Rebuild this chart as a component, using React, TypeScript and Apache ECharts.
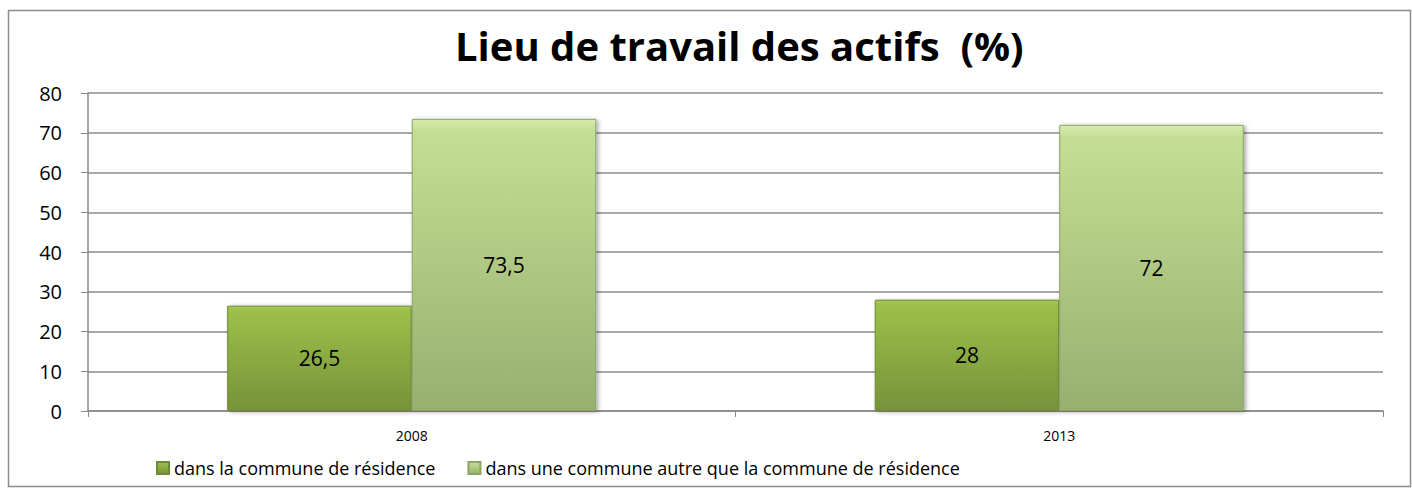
import React, { useEffect, useRef } from "react";
import * as echarts from "echarts";

const categories = ["2008", "2013"];
const seriesNames = [
  "dans la commune de résidence",
  "dans une commune autre que la commune de résidence",
];
const valuesResidence = [26.5, 28];
const valuesAutre = [73.5, 72];
const yTicks = [0, 10, 20, 30, 40, 50, 60, 70, 80];

const fmt = (v: number) => String(v).replace(".", ",");

export default function App() {
  const ref = useRef<HTMLDivElement>(null);
  useEffect(() => {
    const chart = echarts.init(ref.current!, null, { renderer: "svg" });
    const font = "'Open Sans', 'Noto Sans', sans-serif";
    const darkGrad = new echarts.graphic.LinearGradient(0, 0, 0, 1, [
      { offset: 0, color: "#a6c95a" },
      { offset: 0.04, color: "#9cc04a" },
      { offset: 1, color: "#76933a" },
    ]);
    const lightGrad = new echarts.graphic.LinearGradient(0, 0, 0, 1, [
      { offset: 0, color: "#d6ecae" },
      { offset: 0.04, color: "#c4de95" },
      { offset: 1, color: "#97b06f" },
    ]);
    chart.setOption({
      animation: false,
      backgroundColor: "#ffffff",
      title: {
        text: "Lieu de travail des actifs  (%)",
        left: 450,
        top: 20,
        textStyle: { fontFamily: font, fontSize: 40, fontWeight: "bold", color: "#000" },
      },
      graphic: [
        {
          type: "rect",
          shape: { x: 8.5, y: 10.5, width: 1402, height: 476 },
          style: { fill: "none", stroke: "#8c8c8c", lineWidth: 1.5 },
          silent: true,
        },
      ],
      legend: {
        bottom: 6,
        left: 151,
        itemGap: 32,
        itemWidth: 12,
        itemHeight: 12,
        icon: "rect",
        textStyle: { fontFamily: font, fontSize: 18, color: "#000" },
        data: seriesNames,
      },
      grid: { left: 88, right: 29, top: 93, bottom: 77 },
      xAxis: {
        type: "category",
        data: categories,
        axisLine: { lineStyle: { color: "#888", width: 1.5 } },
        axisTick: { show: true, length: 6, lineStyle: { color: "#888" } },
        axisLabel: { fontFamily: font, fontSize: 14, color: "#000", margin: 17 },
      },
      yAxis: {
        type: "value",
        min: 0,
        max: 80,
        interval: 10,
        axisLine: { show: true, lineStyle: { color: "#888", width: 1.5 } },
        axisTick: { show: true, length: 7, lineStyle: { color: "#888" } },
        splitLine: { lineStyle: { color: "#8c8c8c", width: 1.5 } },
        axisLabel: {
          fontFamily: font,
          fontSize: 20,
          color: "#000",
          margin: 26,
          formatter: (v: number) => (yTicks.includes(v) ? String(v) : ""),
        },
      },
      series: [
        {
          name: seriesNames[0],
          type: "bar",
          data: valuesResidence,
          barGap: "0%",
          barCategoryGap: "43%",
          itemStyle: {
            color: darkGrad,
            borderColor: "#6d8a33",
            borderWidth: 1,
            shadowBlur: 4,
            shadowOffsetX: 2,
            shadowOffsetY: 1,
            shadowColor: "rgba(0,0,0,0.35)",
          },
          label: {
            show: true,
            position: "inside",
            fontFamily: font,
            fontSize: 21,
            color: "#000",
            formatter: (p: any) => fmt(p.value),
          },
        },
        {
          name: seriesNames[1],
          type: "bar",
          data: valuesAutre,
          itemStyle: {
            color: lightGrad,
            borderColor: "#8aa566",
            borderWidth: 1,
            shadowBlur: 4,
            shadowOffsetX: 2,
            shadowOffsetY: 1,
            shadowColor: "rgba(0,0,0,0.35)",
          },
          label: {
            show: true,
            position: "inside",
            fontFamily: font,
            fontSize: 21,
            color: "#000",
            formatter: (p: any) => fmt(p.value),
          },
        },
      ],
    });
    return () => chart.dispose();
  }, []);
  return (
    <div
      ref={ref}
      style={{ position: "fixed", left: 0, top: 0, width: 1412, height: 488 }}
    />
  );
}
